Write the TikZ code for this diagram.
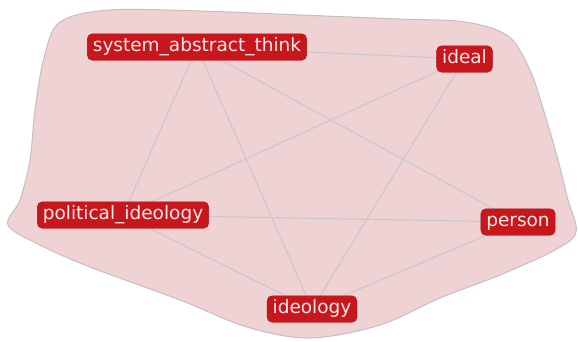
\documentclass[tikz,border=0pt]{standalone}
\usepackage{fontspec}
\setmainfont{DejaVu Sans}
\usetikzlibrary{backgrounds}
\definecolor{nodered}{HTML}{C8161D}
\definecolor{blobfill}{HTML}{EFD2D3}
\definecolor{blobline}{HTML}{C9BDBE}
\definecolor{edgegray}{HTML}{C9C9C9}
\definecolor{labelwhite}{HTML}{FBECEC}
\tikzset{
  term/.style={fill=nodered, draw=nodered!80!black, line width=0.4pt, rounded corners=5pt,
    text=labelwhite, font=\fontsize{18.5}{21}\selectfont,
    inner xsep=5.5pt, inner ysep=4.5pt, text height=13.5pt, text depth=4pt},
  link/.style={draw=edgegray, line width=1.1pt},
  blob/.style={fill=blobfill, draw=blobline, line width=1pt}
}
\begin{document}
\begin{tikzpicture}[x=1pt,y=-1pt]
\useasboundingbox (0,0) rectangle (578,341);
\node[term] (sat) at (197,47) {system\_abstract\_think};
\node[term] (ideal) at (464.5,59) {ideal};
\node[term] (pol) at (123,215) {political\_ideology};
\node[term] (person) at (518,222) {person};
\node[term] (ideo) at (312,309) {ideology};
\begin{scope}[on background layer]
\path[blob] plot[smooth cycle, tension=0.55] coordinates {
  (60,22) (110,10) (200,11) (300,15) (400,19) (465,22) (508,36) (530,70)
  (545,115) (558,160) (568,200) (576,232) (555,250) (500,275) (440,298)
  (380,325) (310,338) (247,327) (180,300) (90,267) (40,245) (8,225)
  (20,200) (30,160) (35,110) (44,58)};
\draw[link] (sat.center) -- (ideal.center);
\draw[link] (sat.center) -- (pol.center);
\draw[link] (sat.center) -- (ideo.center);
\draw[link] (sat.center) -- (person.center);
\draw[link] (ideal.center) -- (pol.center);
\draw[link] (ideal.center) -- (ideo.center);
\draw[link] (pol.center) -- (person.center);
\draw[link] (pol.center) -- (ideo.center);
\draw[link] (person.center) -- (ideo.center);
\end{scope}
\end{tikzpicture}
\end{document}
